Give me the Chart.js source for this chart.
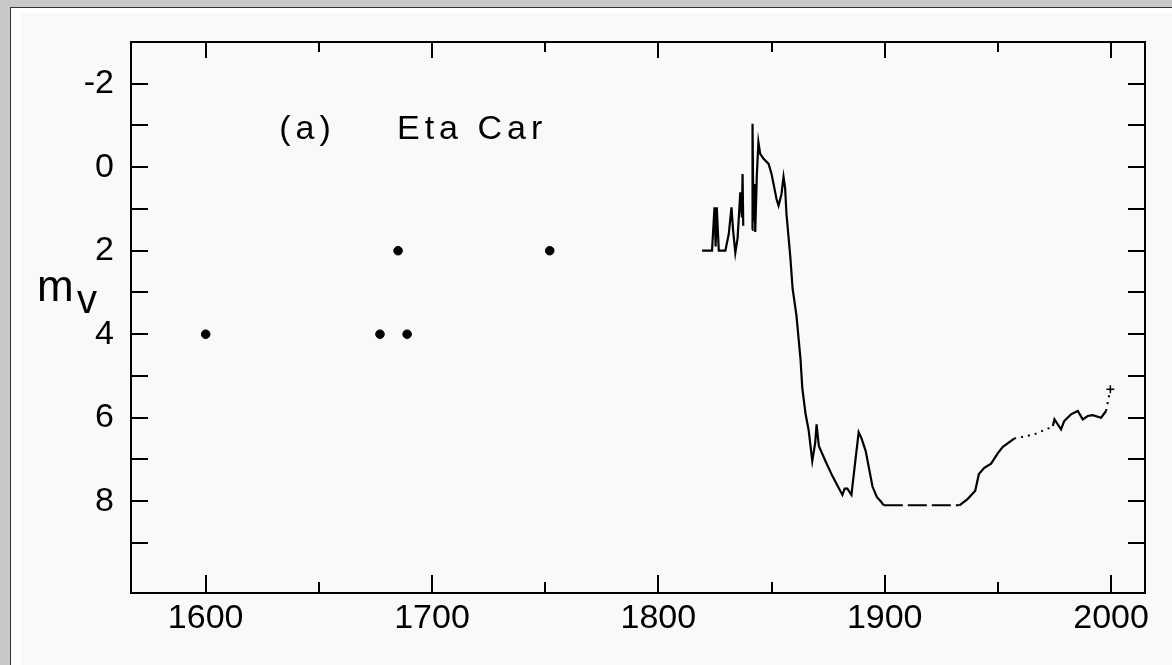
<!DOCTYPE html>
<html>
<head>
<meta charset="utf-8">
<title>Eta Car light curve</title>
<script src="https://cdn.jsdelivr.net/npm/chart.js@4/dist/chart.umd.min.js"></script>
<style>
  body { margin: 0; background: #c8c8c8; width: 1172px; height: 665px; overflow: hidden; position: relative; }
  .panel { position: absolute; left: 10px; top: 7px; right: 0; bottom: 0; background: #fff;
           border-left: 1px solid #333; border-top: 1px solid #333; }
  .inner { position: absolute; left: 10px; top: 5px; right: 0; bottom: 0; background: #f9f9f9; }
  #wrap { position: absolute; left: 0; top: 0; width: 1172px; height: 665px; }
</style>
</head>
<body>
<div class="panel"><div class="inner"></div></div>
<div id="wrap"><canvas id="lc"></canvas></div>
<script>
// Early naked-eye estimates (isolated dots)
const histYears = [1600, 1677, 1685, 1689, 1752];
const histMags  = [4, 4, 2, 4, 2];

// Solid pieces of the light curve (gaps between pieces are left open)
const earlyYears = [1819.3, 1823.7, 1824.8, 1825.3, 1825.8, 1826.7, 1829.6, 1831.1, 1832.3, 1833.0,
                    1834.0, 1835.0, 1836.2, 1836.9, 1837.2, 1837.5];
const earlyMags  = [2.0, 2.0, 0.96, 1.9, 0.96, 2.0, 2.0, 1.6, 0.96, 1.5,
                    2.05, 1.7, 0.6, 1.2, 0.16, 1.4];

const eruptYears = [1841.4, 1841.6, 1842.0, 1842.5, 1842.8, 1843.5, 1844.2, 1845.0, 1846.5, 1848.7,
                    1850.0, 1852.2, 1853.1, 1854.4, 1855.3, 1856.0, 1856.6, 1858.3, 1859.3, 1861.0,
                    1862.8, 1863.6, 1865.0, 1866.4, 1868.0, 1869.3, 1869.9, 1870.9, 1873.9, 1876.9,
                    1881.3, 1882.3, 1883.5, 1885.3, 1887.2, 1888.5, 1889.8, 1891.6, 1894.6, 1896.5,
                    1898.2, 1899.6];
const eruptMags  = [1.5, -1.04, 1.3, 0.4, 1.55, 0.2, -0.6, -0.32, -0.2, -0.08,
                    0.16, 0.76, 0.92, 0.64, 0.23, 0.5, 1.12, 2.15, 2.9, 3.55,
                    4.6, 5.3, 5.9, 6.3, 7.04, 6.6, 6.16, 6.68, 7.05, 7.4,
                    7.85, 7.7, 7.7, 7.85, 6.95, 6.35, 6.5, 6.8, 7.65, 7.9,
                    8.0, 8.1];

const riseYears = [1933.0, 1936.6, 1940.0, 1941.6, 1944.0, 1947.0, 1950.0, 1952.2, 1957.2];
const riseMags  = [8.1, 7.95, 7.75, 7.35, 7.2, 7.1, 6.85, 6.7, 6.5];

const modernYears = [1974.3, 1975.0, 1977.9, 1979.3, 1982.3, 1985.3, 1987.5, 1989.7, 1991.9, 1995.6, 1997.8];
const modernMags  = [6.2, 6.04, 6.28, 6.08, 5.92, 5.84, 6.04, 5.96, 5.94, 6.0, 5.84];

// Dashed plateau
const plateauYears = [1899.6, 1933.0];
const plateauMags  = [8.1, 8.1];

// Dotted stretches (null splits the two)
const dotYears = [1957.2, 1966.0, 1972.6, 1974.3, null, 1997.8, 1999.7];
const dotMags  = [6.5, 6.4, 6.25, 6.2, null, 5.84, 5.32];

// Last measurement, drawn as a "+"
const lastYear = [1999.7];
const lastMag  = [5.32];

// Axis ticks
const xTicks = [1600, 1650, 1700, 1750, 1800, 1850, 1900, 1950, 2000];
const xLabelled = [1600, 1700, 1800, 1900, 2000];
const yTicks = [-2, -1, 0, 1, 2, 3, 4, 5, 6, 7, 8, 9];
const yLabelled = [-2, 0, 2, 4, 6, 8];

const FONT = '"Liberation Sans", Arial, sans-serif';

function pts(xs, ys) {
  return xs.map((x, i) => ({ x: x, y: ys[i] }));
}
function join(...parts) {
  const out = [];
  parts.forEach((p, i) => { if (i) out.push({ x: null, y: null }); out.push(...p); });
  return out;
}

const framePlugin = {
  id: 'frame',
  afterDraw(chart) {
    const { ctx: c, chartArea: a, scales } = chart;
    const xs = scales.x, ys = scales.y;
    c.save();
    c.strokeStyle = '#000';
    c.lineWidth = 2;
    c.strokeRect(a.left, a.top, a.right - a.left, a.bottom - a.top);

    // inward tick marks on all four sides
    c.beginPath();
    ys.ticks.forEach(t => {
      const py = Math.round(ys.getPixelForValue(t.value));
      c.moveTo(a.left, py); c.lineTo(a.left + 17, py);
      c.moveTo(a.right, py); c.lineTo(a.right - 17, py);
    });
    xs.ticks.forEach(t => {
      const major = xLabelled.includes(t.value);
      const px = Math.round(xs.getPixelForValue(t.value));
      c.moveTo(px, a.bottom); c.lineTo(px, a.bottom - (major ? 18 : 11));
      c.moveTo(px, a.top); c.lineTo(px, a.top + (major ? 16 : 10));
    });
    c.stroke();

    // panel labels
    c.fillStyle = '#000';
    c.textAlign = 'left';
    c.textBaseline = 'alphabetic';
    c.font = '34px ' + FONT;
    c.letterSpacing = '5px';
    c.fillText('(a)', xs.getPixelForValue(1632.5), ys.getPixelForValue(-0.68));
    c.fillText('Eta Car', xs.getPixelForValue(1684.5), ys.getPixelForValue(-0.68));
    c.letterSpacing = '0px';

    // y-axis title m_V
    const by = ys.getPixelForValue(3.2);
    c.font = '44px ' + FONT;
    c.fillText('m', 37, by);
    c.font = '40px ' + FONT;
    c.fillText('v', 77, by + 12);
    c.restore();
  }
};

new Chart(document.getElementById('lc'), {
  type: 'scatter',
  data: {
    datasets: [
      {
        data: pts(histYears, histMags),
        pointRadius: 4.3, pointBackgroundColor: '#000', pointBorderColor: '#000', showLine: false
      },
      {
        data: join(pts(earlyYears, earlyMags), pts(eruptYears, eruptMags),
                   pts(riseYears, riseMags), pts(modernYears, modernMags)),
        showLine: true, spanGaps: false, borderColor: '#000', borderWidth: 2.2, pointRadius: 0
      },
      {
        data: pts(plateauYears, plateauMags),
        showLine: true, borderColor: '#000', borderWidth: 2, borderDash: [19, 5], pointRadius: 0
      },
      {
        data: pts(dotYears, dotMags),
        showLine: true, spanGaps: false, borderColor: '#000', borderWidth: 2, borderDash: [2, 5], pointRadius: 0
      },
      {
        data: pts(lastYear, lastMag),
        pointStyle: 'cross', pointRadius: 4, borderColor: '#000', borderWidth: 1.5, showLine: false
      }
    ]
  },
  options: {
    responsive: true,
    maintainAspectRatio: false,
    animation: false,
    events: [],
    layout: { padding: { left: 0, top: 42, right: 27, bottom: 0 } },
    plugins: { legend: { display: false }, tooltip: { enabled: false } },
    scales: {
      x: {
        type: 'linear',
        min: 1567, max: 2015,
        grid: { display: false, drawTicks: false },
        border: { display: false },
        afterFit(s) { s.height = 72; },
        afterBuildTicks(s) { s.ticks = xTicks.map(v => ({ value: v })); },
        ticks: {
          autoSkip: false, maxRotation: 0,
          padding: 5, color: '#000', font: { family: FONT, size: 34 },
          callback: v => xLabelled.includes(v) ? String(v) : ''
        }
      },
      y: {
        type: 'linear',
        reverse: true,
        min: -3, max: 10.2,
        grid: { display: false, drawTicks: false },
        border: { display: false },
        afterFit(s) { s.width = 131; },
        afterBuildTicks(s) { s.ticks = yTicks.map(v => ({ value: v })); },
        ticks: {
          autoSkip: false,
          padding: 17, color: '#000', font: { family: FONT, size: 34 },
          callback: v => yLabelled.includes(v) ? String(v) : ''
        }
      }
    }
  },
  plugins: [framePlugin]
});
</script>
</body>
</html>
